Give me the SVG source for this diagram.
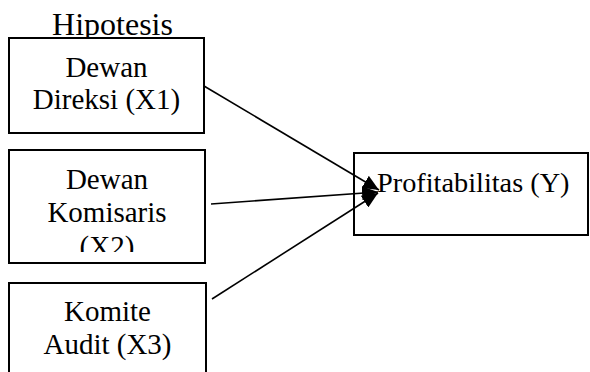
<svg xmlns="http://www.w3.org/2000/svg" width="590" height="372" viewBox="0 0 590 372">
<style>
.box{fill:#fff;stroke:#000;stroke-width:2}
text{font-family:'Liberation Serif','Times New Roman','DejaVu Serif',serif;font-size:29px;fill:#000}
.c{text-anchor:middle}
.h{font-size:32px}
.p{font-size:28.3px}
.ln{stroke:#000;stroke-width:1.6;fill:none;marker-end:url(#ah)}
</style>
<defs>
<marker id="ah" markerUnits="userSpaceOnUse" markerWidth="17" markerHeight="14" refX="16" refY="7" orient="auto">
<path d="M0,0 L16,7 L0,14 z" fill="#000"/>
</marker>
<clipPath id="cp2"><rect x="9" y="150" width="196" height="102"/></clipPath>
</defs>
<rect width="590" height="372" fill="#fff"/>
<text class="c h" x="112.5" y="35">Hipotesis</text>
<g id="x1">
<rect class="box" x="9" y="38" width="195" height="95"/>
<text class="c" x="106.5" y="77">Dewan</text>
<text class="c" x="106.5" y="109">Direksi (X1)</text>
</g>
<g id="x2">
<rect class="box" x="9" y="150" width="196" height="113"/>
<g clip-path="url(#cp2)">
<text class="c" x="107" y="189">Dewan</text>
<text class="c" x="107" y="222">Komisaris</text>
<text class="c" x="107" y="256">(X2)</text>
</g>
</g>
<g id="x3">
<rect class="box" x="9" y="283" width="197" height="100"/>
<text class="c" x="107.5" y="321">Komite</text>
<text class="c" x="107.5" y="354">Audit (X3)</text>
</g>
<g id="y">
<rect class="box" x="354" y="153" width="234" height="82"/>
<text class="p" x="377" y="192">Profitabilitas (Y)</text>
</g>
<g id="connectors">
<line class="ln" x1="204" y1="86" x2="379" y2="190"/>
<line class="ln" x1="211" y1="204" x2="378" y2="192"/>
<line class="ln" x1="212" y1="299" x2="378" y2="193"/>
</g>
</svg>
